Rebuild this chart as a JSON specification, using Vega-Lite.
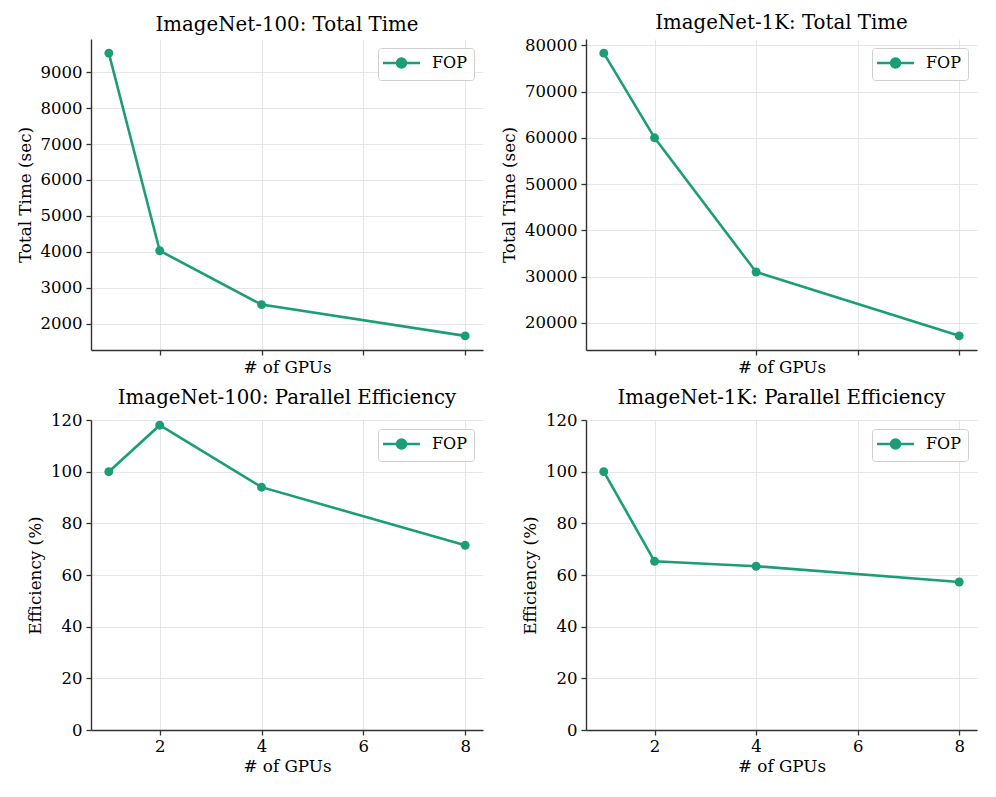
{
  "$schema": "https://vega.github.io/schema/vega-lite/v6.json",
  "background": "white",
  "padding": {"left": 17, "top": 13, "right": 5, "bottom": 5},
  "columns": 2,
  "spacing": {"row": 11, "column": 18},
  "config": {
    "font": "DejaVu Serif",
    "view": {"stroke": null},
    "title": {"font": "DejaVu Serif", "fontSize": 19.8, "fontWeight": "normal", "color": "#000", "offset": 4},
    "axis": {
      "labelFont": "DejaVu Serif", "labelFontSize": 16.5, "labelColor": "#000",
      "titleFont": "DejaVu Serif", "titleFontSize": 16.8, "titleFontWeight": "normal", "titleColor": "#000",
      "domainColor": "#333", "domainWidth": 1.4, "tickColor": "#333", "tickWidth": 1.3, "tickSize": 5,
      "gridColor": "#e6e6e6", "gridWidth": 1, "labelPadding": 3, "titlePadding": 4
    },
    "axisY": {"labelPadding": 4, "titlePadding": 6},
    "legend": {
      "orient": "top-right", "offset": 9, "title": null,
      "labelFont": "DejaVu Serif", "labelFontSize": 16, "labelColor": "#000",
      "strokeColor": "#d0d0d0", "fillColor": "rgba(255,255,255,0.85)", "cornerRadius": 3, "padding": 7,
      "symbolType": "M-3.7,0H3.7M0.9,0A0.9,0.9,0,1,1,-0.9,0A0.9,0.9,0,1,1,0.9,0Z",
      "symbolSize": 100, "symbolOffset": 8.5, "symbolStrokeWidth": 2.6, "labelOffset": 22.5
    }
  },
  "concat": [
    {
      "title": "ImageNet-100: Total Time",
      "width": 392, "height": 311,
      "data": {"values": [
        {"gpus": 1, "value": 9530, "method": "FOP"},
        {"gpus": 2, "value": 4030, "method": "FOP"},
        {"gpus": 4, "value": 2530, "method": "FOP"},
        {"gpus": 8, "value": 1660, "method": "FOP"}
      ]},
      "encoding": {
        "x": {"field": "gpus", "type": "quantitative", "scale": {"domain": [0.65, 8.35], "nice": false, "zero": false},
              "axis": {"values": [2, 4, 6, 8], "labels": false, "title": "# of GPUs", "titlePadding": 4}},
        "y": {"field": "value", "type": "quantitative", "scale": {"domain": [1267, 9923], "nice": false, "zero": false},
              "axis": {"values": [2000, 3000, 4000, 5000, 6000, 7000, 8000, 9000], "format": "d", "title": "Total Time (sec)"}},
        "color": {"field": "method", "type": "nominal", "scale": {"range": ["#1b9e77"]},
                  "legend": {"encode": {"symbols": {"update": {"fill": {"value": "#1b9e77"}, "stroke": {"value": "#1b9e77"}, "strokeWidth": {"value": 2.6}}}}}}
      },
      "layer": [
        {"mark": {"type": "line", "strokeWidth": 2.6}},
        {"mark": {"type": "point", "filled": true, "size": 80, "opacity": 1}}
      ]
    },
    {
      "title": "ImageNet-1K: Total Time",
      "width": 391, "height": 311,
      "data": {"values": [
        {"gpus": 1, "value": 78300, "method": "FOP"},
        {"gpus": 2, "value": 60000, "method": "FOP"},
        {"gpus": 4, "value": 31000, "method": "FOP"},
        {"gpus": 8, "value": 17200, "method": "FOP"}
      ]},
      "encoding": {
        "x": {"field": "gpus", "type": "quantitative", "scale": {"domain": [0.65, 8.35], "nice": false, "zero": false},
              "axis": {"values": [2, 4, 6, 8], "labels": false, "title": "# of GPUs", "titlePadding": 4}},
        "y": {"field": "value", "type": "quantitative", "scale": {"domain": [14145, 81355], "nice": false, "zero": false},
              "axis": {"values": [20000, 30000, 40000, 50000, 60000, 70000, 80000], "format": "d", "title": "Total Time (sec)"}},
        "color": {"field": "method", "type": "nominal", "scale": {"range": ["#1b9e77"]},
                  "legend": {"encode": {"symbols": {"update": {"fill": {"value": "#1b9e77"}, "stroke": {"value": "#1b9e77"}, "strokeWidth": {"value": 2.6}}}}}}
      },
      "layer": [
        {"mark": {"type": "line", "strokeWidth": 2.6}},
        {"mark": {"type": "point", "filled": true, "size": 80, "opacity": 1}}
      ]
    },
    {
      "title": "ImageNet-100: Parallel Efficiency",
      "width": 392, "height": 310,
      "data": {"values": [
        {"gpus": 1, "value": 100, "method": "FOP"},
        {"gpus": 2, "value": 118, "method": "FOP"},
        {"gpus": 4, "value": 94, "method": "FOP"},
        {"gpus": 8, "value": 71.5, "method": "FOP"}
      ]},
      "encoding": {
        "x": {"field": "gpus", "type": "quantitative", "scale": {"domain": [0.65, 8.35], "nice": false, "zero": false},
              "axis": {"values": [2, 4, 6, 8], "title": "# of GPUs"}},
        "y": {"field": "value", "type": "quantitative", "scale": {"domain": [0, 120], "nice": false},
              "axis": {"values": [0, 20, 40, 60, 80, 100, 120], "title": "Efficiency (%)"}},
        "color": {"field": "method", "type": "nominal", "scale": {"range": ["#1b9e77"]},
                  "legend": {"encode": {"symbols": {"update": {"fill": {"value": "#1b9e77"}, "stroke": {"value": "#1b9e77"}, "strokeWidth": {"value": 2.6}}}}}}
      },
      "layer": [
        {"mark": {"type": "line", "strokeWidth": 2.6}},
        {"mark": {"type": "point", "filled": true, "size": 80, "opacity": 1}}
      ]
    },
    {
      "title": "ImageNet-1K: Parallel Efficiency",
      "width": 391, "height": 310,
      "data": {"values": [
        {"gpus": 1, "value": 100, "method": "FOP"},
        {"gpus": 2, "value": 65.3, "method": "FOP"},
        {"gpus": 4, "value": 63.4, "method": "FOP"},
        {"gpus": 8, "value": 57.3, "method": "FOP"}
      ]},
      "encoding": {
        "x": {"field": "gpus", "type": "quantitative", "scale": {"domain": [0.65, 8.35], "nice": false, "zero": false},
              "axis": {"values": [2, 4, 6, 8], "title": "# of GPUs"}},
        "y": {"field": "value", "type": "quantitative", "scale": {"domain": [0, 120], "nice": false},
              "axis": {"values": [0, 20, 40, 60, 80, 100, 120], "title": "Efficiency (%)"}},
        "color": {"field": "method", "type": "nominal", "scale": {"range": ["#1b9e77"]},
                  "legend": {"encode": {"symbols": {"update": {"fill": {"value": "#1b9e77"}, "stroke": {"value": "#1b9e77"}, "strokeWidth": {"value": 2.6}}}}}}
      },
      "layer": [
        {"mark": {"type": "line", "strokeWidth": 2.6}},
        {"mark": {"type": "point", "filled": true, "size": 80, "opacity": 1}}
      ]
    }
  ],
  "resolve": {"scale": {"x": "independent", "y": "independent", "color": "independent"}, "legend": {"color": "independent"}}
}
